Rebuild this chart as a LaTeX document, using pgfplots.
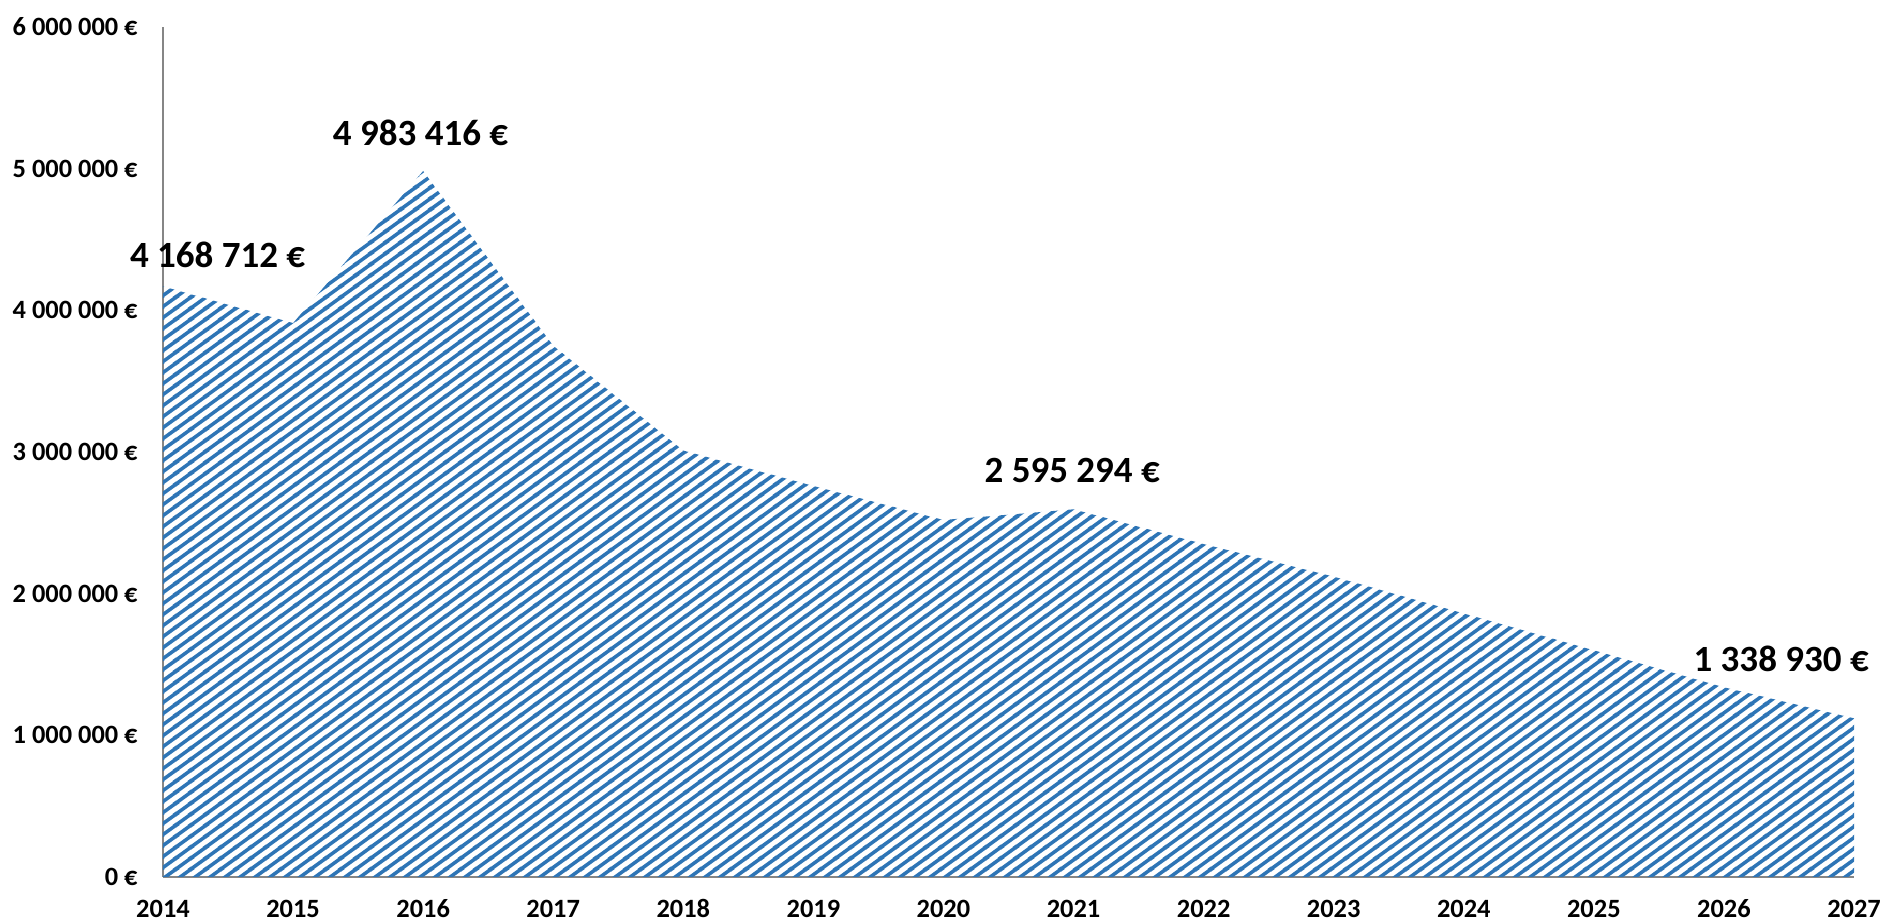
\documentclass[border=0pt]{standalone}
\usepackage{fontspec}
\setmainfont{Carlito}
\usepackage{pgfplots}
\pgfplotsset{compat=1.18}
\usetikzlibrary{patterns}
\definecolor{hatchblue}{HTML}{2E75B6}
\definecolor{axisgray}{HTML}{868686}
\pgfdeclarepatternformonly{hatchNE}{\pgfpointorigin}{\pgfpoint{7.35pt}{5.35pt}}{\pgfpoint{7.35pt}{5.35pt}}{%
  \pgfsetlinewidth{1.8pt}%
  \pgfpathmoveto{\pgfpoint{-7.35pt}{-5.35pt}}\pgfpathlineto{\pgfpoint{14.7pt}{10.7pt}}%
  \pgfpathmoveto{\pgfpoint{0pt}{-5.35pt}}\pgfpathlineto{\pgfpoint{14.7pt}{5.35pt}}%
  \pgfpathmoveto{\pgfpoint{-7.35pt}{0pt}}\pgfpathlineto{\pgfpoint{7.35pt}{10.7pt}}%
  \pgfusepath{stroke}%
}
\begin{document}
\begin{tikzpicture}
\begin{axis}[
  scale only axis, width=845.5pt, height=425pt,
  xmin=2014, xmax=2027, ymin=0, ymax=6000000,
  axis x line*=bottom, axis y line*=left,
  axis line style={-, draw=axisgray, line width=0.75pt},
  x axis line style={-}, y axis line style={-},
  xtick={2014,2015,2016,2017,2018,2019,2020,2021,2022,2023,2024,2025,2026,2027},
  xticklabels={2014,2015,2016,2017,2018,2019,2020,2021,2022,2023,2024,2025,2026,2027},
  ytick={0,1000000,2000000,3000000,4000000,5000000,6000000},
  yticklabels={0 €,1 000 000 €,2 000 000 €,3 000 000 €,4 000 000 €,5 000 000 €,6 000 000 €},
  scaled y ticks=false,
  major tick length=0pt,
  tick style={draw=none},
  tick label style={font=\fontsize{13.2}{13.2}\selectfont\bfseries},
  xticklabel style={anchor=base, inner sep=0pt, yshift=-20.25pt},
  yticklabel style={anchor=east, inner sep=0pt, xshift=-12.5pt},
  clip=false,
]
\addplot[draw=none, pattern=hatchNE, pattern color=hatchblue] coordinates {
(2014,4168712) (2015,3910000) (2016,4983416) (2017,3750000) (2018,3010000)
(2019,2760000) (2020,2520000) (2021,2595294) (2022,2350000) (2023,2120000)
(2024,1860000) (2025,1600000) (2026,1338930) (2027,1120000)
} \closedcycle;
\node[font=\fontsize{18.5}{18.5}\selectfont\bfseries] at (axis cs:2014.42,4390000) {4 168 712 €};
\node[font=\fontsize{18.5}{18.5}\selectfont\bfseries] at (axis cs:2015.98,5250000) {4 983 416 €};
\node[font=\fontsize{18.5}{18.5}\selectfont\bfseries] at (axis cs:2020.99,2870000) {2 595 294 €};
\node[font=\fontsize{18.5}{18.5}\selectfont\bfseries] at (axis cs:2026.44,1540000) {1 338 930 €};
\end{axis}
\pgfresetboundingbox
\path ([shift={(-81.5pt,-22.5pt)}]current axis.south west) rectangle ([shift={(15.5pt,13.5pt)}]current axis.north east);
\end{tikzpicture}
\end{document}
